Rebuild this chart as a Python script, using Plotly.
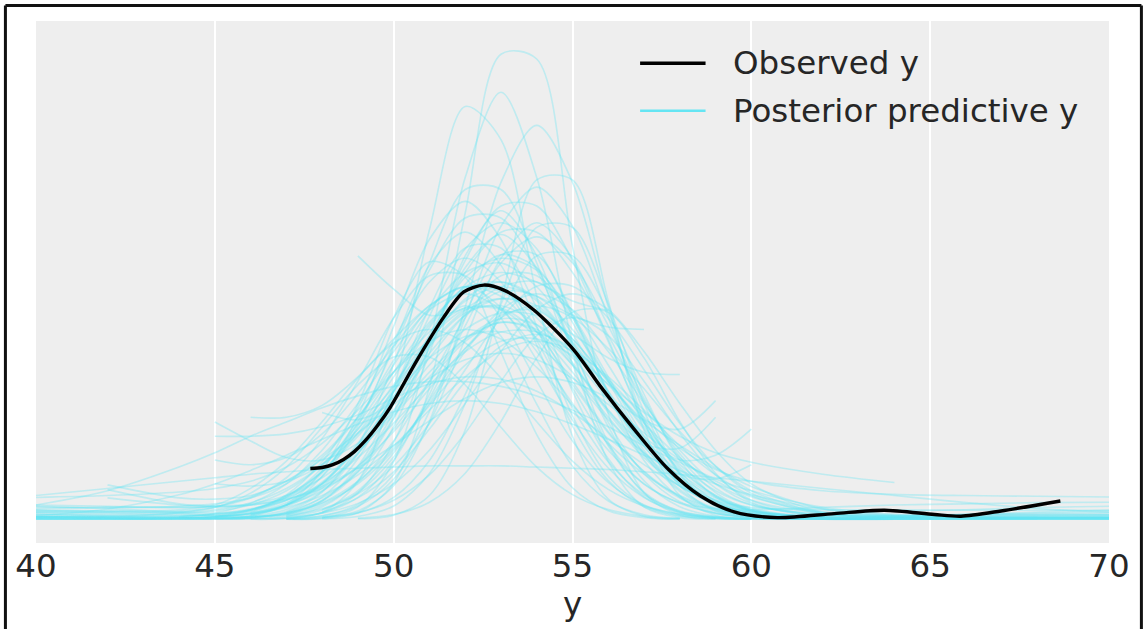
import plotly.graph_objects as go

N = None

# x grid on which the posterior predictive KDE curves were read
pp_grid = [40, 42, 44, 45, 46, 47, 48, 49, 50, 51, 52, 53, 54, 55, 56, 57, 58, 59, 60, 62, 64, 66, 68, 70]

# posterior predictive KDE curves
pp_curves = [
    [N,N,N,N,N,0.0,0.02,0.27,1.53,5.56,12.9,19.6,19.4,11.5,4.45,1.12,0.18,0.02,0.0,N,N,N,N,N],
    [N,N,N,N,0.0,0.03,0.29,1.6,5.5,12.2,17.4,16.0,9.4,3.5,0.85,0.13,0.01,N,N,N,N,N,N,N],
    [N,N,N,N,N,0.01,0.07,0.52,2.43,7.4,14.4,18.0,14.4,7.4,2.43,0.52,0.07,0.01,N,N,N,N,N,N],
    [N,N,N,N,N,0.01,0.07,0.35,1.41,4.13,8.95,14.2,16.6,14.2,8.95,4.13,1.41,0.35,0.07,N,N,N,N,N],
    [N,N,N,N,N,N,N,0.02,0.17,1.0,3.76,9.2,14.3,14.3,9.2,3.76,1.0,0.17,0.02,N,N,N,N,N],
    [0.05,0.03,0.02,0.02,0.07,0.33,1.14,3.09,6.55,10.8,13.9,13.9,10.8,6.55,3.09,1.14,0.33,0.07,0.01,N,N,N,N,N],
    [N,N,N,N,N,0.03,0.15,0.62,1.89,4.55,8.5,12.35,14.0,12.35,8.5,4.55,1.89,0.62,0.15,0.02,0.05,0.08,0.1,0.1],
    [0.02,0.01,0.01,0.03,0.15,0.59,1.81,4.36,8.13,11.8,13.4,11.8,8.13,4.36,1.81,0.59,0.15,0.03,0.0,N,N,N,N,N],
    [0.12,0.08,0.05,0.04,0.08,0.25,0.77,2.0,4.24,7.48,10.9,13.2,13.2,10.9,7.48,4.24,2.0,0.77,0.25,0.05,0.03,0.03,0.03,0.03],
    [0.15,0.12,0.15,0.2,0.35,0.8,1.95,4.08,7.2,10.5,12.7,12.7,10.5,7.2,4.08,1.92,0.74,0.24,0.07,0.01,N,N,N,N],
    [N,N,N,N,N,N,0.06,0.26,0.92,2.48,5.27,8.7,11.1,11.1,8.7,5.27,2.48,0.95,0.35,0.1,0.1,0.05,0.05,0.05],
    [N,N,N,0.03,0.12,0.41,1.18,2.75,5.34,8.56,11.4,12.5,11.4,8.56,5.34,2.75,1.18,0.41,0.12,0.0,0.0,0.02,0.05,0.08],
    [0.3,0.25,0.18,0.15,0.22,0.55,1.31,2.76,4.97,7.75,10.4,12.1,12.1,10.4,7.75,4.97,2.76,1.31,0.6,0.2,0.15,0.2,0.25,0.3],
    [0.45,0.5,0.5,0.5,0.6,0.9,1.8,3.93,7.34,10.7,12.1,10.7,7.34,3.93,1.63,0.53,0.13,0.03,N,N,N,N,N,N],
    [N,N,N,N,N,0.12,0.39,1.12,2.62,5.08,8.15,10.8,11.9,10.8,8.15,5.08,2.62,1.12,0.39,0.05,0.05,0.08,0.1,0.12],
    [0.6,0.55,0.5,0.55,0.9,1.75,3.4,5.82,8.48,10.26,10.26,8.48,5.82,3.3,1.55,0.6,0.2,0.06,N,N,N,N,N,N],
    [N,N,0.03,0.09,0.27,0.7,1.57,3.06,5.14,7.44,9.29,10.0,9.29,7.44,5.14,3.06,1.6,0.8,0.5,0.4,0.4,0.38,0.38,0.38],
    [N,N,N,N,0.09,0.26,0.67,1.49,2.91,4.88,7.07,8.83,9.5,8.83,7.07,4.88,2.91,1.49,0.67,0.09,0.01,N,N,N],
    [0.1,0.08,0.06,0.14,0.4,0.96,2.02,3.64,5.67,7.62,8.84,8.84,7.62,5.67,3.64,2.02,0.96,0.4,0.14,0.01,0.02,0.03,0.05,0.06],
    [N,N,N,N,N,N,0.09,0.28,0.8,1.87,3.63,5.82,7.74,8.5,7.74,5.82,3.63,1.87,0.8,0.12,0.1,0.12,0.15,0.17],
    [0.35,0.35,0.4,0.6,1.3,2.45,4.11,5.95,7.43,8.0,7.43,5.95,4.11,2.45,1.26,0.56,0.22,0.07,0.02,0.02,0.02,0.02,N,N],
    [0.2,0.15,0.12,0.2,0.4,0.8,1.49,2.6,4.05,5.66,7.06,7.89,7.89,7.06,5.66,4.05,2.6,1.5,0.8,0.25,0.15,0.2,0.2,0.2],
    [0.0,0.01,0.02,0.1,0.36,1.03,2.42,4.7,7.54,10.0,11.0,10.0,7.54,4.7,2.42,1.03,0.36,0.1,0.02,0.0,0.01,0.03,0.05,0.06],
    [N,N,N,N,N,0.16,0.44,1.07,2.24,4.04,6.3,8.47,9.82,9.82,8.47,6.3,4.04,2.24,1.1,0.3,0.35,0.4,0.5,0.55],
    [0.1,0.1,0.28,0.51,0.95,1.61,2.52,3.64,4.84,5.94,6.72,7.0,6.72,5.94,4.84,3.64,2.52,1.61,0.95,0.26,0.07,0.05,0.05,0.05],
    [0.15,0.43,1.03,1.49,2.06,2.7,3.37,4.0,4.53,4.88,5.0,4.88,4.53,4.0,3.37,2.7,2.06,1.49,1.03,0.43,0.15,0.04,0.02,0.02],
    [N,N,N,3.5,3.5,3.6,3.9,4.4,5.1,5.7,6.0,5.9,5.4,4.5,3.4,2.3,1.4,0.75,0.35,0.05,N,N,N,N],
    [N,N,N,4.1,3.3,2.6,2.5,3.2,4.5,6.2,7.6,8.3,8.0,6.8,5.0,3.2,1.8,0.9,0.4,0.05,N,N,N,N],
    [N,N,N,2.5,2.3,2.6,3.6,5.3,7.3,9.0,9.8,9.4,7.9,5.8,3.7,2.0,0.9,0.35,0.1,N,N,N,N,N],
    [N,N,N,N,4.3,4.3,4.8,6.0,7.6,9.0,9.8,9.6,8.5,6.6,4.6,2.8,1.5,0.7,0.3,0.02,N,N,N,N],
    [N,N,N,N,N,N,4.5,4.2,5.0,6.8,8.6,9.6,9.4,8.0,5.9,3.8,2.1,1.0,0.45,0.05,N,N,N,N],
    [N,N,N,N,N,N,N,11.1,9.7,8.6,8.9,9.8,10.0,8.8,6.5,4.1,2.2,1.0,0.35,0.02,N,N,N,N],
    [N,N,N,N,0.3,0.9,2.0,3.8,6.0,8.2,9.8,10.4,10.0,9.2,8.8,N,N,N,N,N,N,N,N,N],
    [N,N,N,N,N,0.6,1.5,3.2,5.4,7.6,9.2,9.8,9.4,8.6,8.1,8.0,N,N,N,N,N,N,N,N],
    [N,N,N,N,0.2,0.6,1.4,2.8,4.6,6.5,8.0,8.7,8.6,7.8,6.8,6.2,6.1,N,N,N,N,N,N,N],
    [N,N,N,N,N,N,0.4,1.2,2.8,5.0,7.2,8.6,8.8,7.6,5.8,4.2,3.8,5.0,N,N,N,N,N,N],
    [N,N,N,N,N,0.3,0.9,2.0,3.8,5.8,7.5,8.3,7.9,6.5,4.6,3.2,3.0,4.3,N,N,N,N,N,N],
    [N,N,N,N,0.2,0.6,1.5,3.0,5.0,7.0,8.6,9.3,9.0,7.5,5.4,3.5,2.5,2.7,3.8,N,N,N,N,N],
    [N,N,N,0.1,0.4,1.0,2.0,3.5,5.2,6.8,7.7,7.9,7.3,6.0,4.2,2.8,1.9,1.7,2.3,N,N,N,N,N],
    [N,N,N,N,N,0.2,0.7,1.6,3.0,4.8,6.5,7.5,7.6,6.9,5.7,4.5,3.5,2.8,2.4,1.9,1.55,N,N,N],
    [N,N,N,N,N,N,0.3,0.9,2.0,3.8,5.8,7.3,7.8,7.2,5.9,4.3,3.0,2.1,1.6,1.2,1.05,1.0,0.97,0.94],
    [0.92,1.0,1.15,1.3,1.6,2.2,3.2,4.6,6.2,7.5,8.0,7.6,6.4,4.8,3.2,1.9,1.0,0.45,0.18,0.02,0.01,0.0,N,N],
    [N,1.45,0.9,0.85,1.0,1.6,2.7,4.3,6.2,7.9,8.9,8.9,7.9,6.2,4.3,2.6,1.4,0.65,0.25,0.02,N,N,N,N],
    [N,1.25,0.65,0.55,0.6,0.85,1.3,2.2,4.5,7.6,10.2,11.0,10.5,8.6,6.0,3.5,1.7,0.7,0.25,0.02,N,N,N,N],
    [0.52,0.5,0.55,0.65,0.9,1.5,2.6,4.3,6.5,8.8,10.4,10.8,9.8,7.8,5.3,3.1,1.5,0.6,0.2,0.02,0.02,0.03,0.04,0.05],
    [0.38,0.3,0.3,0.4,0.7,1.3,2.3,3.8,5.6,7.4,8.8,9.3,8.9,7.6,5.8,3.9,2.3,1.2,0.6,0.2,0.15,0.15,0.16,0.17],
    [0.25,0.2,0.25,0.35,0.6,1.2,2.3,4.0,6.2,8.3,9.7,10.0,9.2,7.4,5.2,3.2,1.7,0.8,0.35,0.05,0.04,0.05,0.05,0.05],
    [0.05,0.03,0.04,0.1,0.26,0.6,1.2,2.24,3.7,5.5,7.2,8.5,9.0,8.5,7.2,5.5,3.7,2.24,1.2,0.26,0.05,0.02,0.01,0.0],
    [0.1,0.08,0.05,0.1,0.25,0.6,1.48,3.14,5.54,8.08,9.77,9.77,8.08,5.54,3.14,1.48,0.7,0.45,0.4,0.5,0.6,0.65,0.7,0.72],
    [0.0,0.0,0.01,0.01,0.03,0.13,0.53,1.62,3.9,7.3,10.6,12.0,10.6,7.3,3.9,1.62,0.53,0.13,0.03,0.01,0.0,0.0,0.0,0.0],
    [0.02,0.02,0.09,0.26,0.67,1.49,2.91,4.88,7.07,8.83,9.5,8.83,7.07,4.88,2.91,1.49,0.67,0.26,0.09,0.02,0.02,0.02,0.02,N],
    [1.0,1.3,1.6,1.75,1.9,2.0,2.1,2.15,2.2,2.25,2.25,2.25,2.2,2.15,2.1,2.0,1.9,1.75,1.6,1.3,1.0,0.7,0.45,0.3],
    [0.6,1.2,2.2,2.8,3.5,4.1,4.7,5.2,5.6,5.8,5.8,5.6,5.2,4.6,3.9,3.1,2.4,1.7,1.2,0.5,0.2,0.1,N,N],
    [0.05,0.03,0.03,0.03,0.14,0.64,2.05,4.85,8.5,10.85,10.2,7.04,3.57,1.33,0.36,0.07,0.01,N,N,N,N,N,N,N],
    [N,N,N,N,N,N,N,0.05,0.2,0.72,1.94,4.12,6.8,8.72,8.72,6.8,4.12,1.94,0.72,0.12,0.1,0.1,0.08,N],
    [0.3,0.3,0.35,0.5,1.1,2.2,3.88,5.66,6.84,6.84,5.66,3.88,2.2,1.04,0.41,0.13,0.04,N,N,N,N,N,N,N],
    [N,N,0.1,0.22,0.44,0.81,1.38,2.16,3.12,4.15,5.1,5.76,6.0,5.76,5.1,4.15,3.12,2.16,1.38,0.44,0.1,0.03,0.02,N],
    [0.1,0.08,0.06,0.04,0.03,0.06,0.26,0.92,2.48,5.27,8.68,11.14,11.14,8.68,5.27,2.48,0.92,0.26,0.06,0.02,0.04,0.05,0.06,0.06],
    [N,N,N,N,N,N,0.02,0.12,0.56,1.93,4.88,9.05,12.3,12.3,9.05,4.88,1.93,0.56,0.12,0.05,0.1,0.12,0.12,0.12],
    [0.2,0.15,0.1,0.08,0.1,0.19,0.77,2.24,4.85,7.71,9.0,7.71,4.85,2.24,0.77,0.19,0.04,N,N,N,N,N,N,N],
    [0.08,0.05,0.03,0.03,0.06,0.27,0.94,2.55,5.4,8.91,11.43,11.43,8.91,5.4,2.55,0.94,0.27,0.06,0.02,0.03,0.05,0.06,0.06,0.06],
    [0.4,0.35,0.25,0.15,0.12,0.2,0.6,1.55,3.3,5.82,8.48,10.26,10.26,8.48,5.82,3.3,1.55,0.6,0.19,0.05,0.05,0.05,N,N],
    [N,N,N,N,N,0.03,0.14,0.55,1.69,4.06,7.59,11.0,12.5,11.0,7.59,4.06,1.69,0.55,0.2,0.1,0.12,0.2,0.3,0.38],
    [0.55,0.45,0.3,0.25,0.4,0.95,2.16,4.18,6.71,8.92,9.8,8.92,6.71,4.18,2.16,0.92,0.32,0.1,0.02,N,N,N,N,N],
    [0.1,0.06,0.03,0.02,0.02,0.05,0.28,1.1,3.24,7.0,11.1,13.0,11.1,7.0,3.24,1.1,0.28,0.05,0.02,0.01,0.02,0.02,0.02,0.02],
    [N,N,N,N,N,0.09,0.26,0.67,1.49,2.91,4.88,7.07,8.83,9.5,8.83,7.07,4.88,2.91,1.49,0.3,0.2,0.2,0.2,0.22],
    [N,0.9,0.6,0.55,0.65,1.0,1.75,2.9,4.4,6.0,7.6,8.45,8.2,7.0,5.2,3.4,1.95,0.95,0.4,0.06,0.03,N,N,N],
    [0.0,0.0,0.02,0.03,0.06,0.25,0.8,2.1,4.3,7.2,9.9,11.15,10.6,8.3,5.4,2.9,1.25,0.45,0.13,0.02,0.0,0.0,0.0,0.0],
    [N,N,N,1.5,1.4,1.6,2.3,3.6,5.4,7.3,8.7,9.0,8.2,6.5,4.5,2.7,1.4,0.65,0.3,0.15,0.12,0.1,N,N],
    [N,N,N,0.09,0.22,0.5,1.0,1.87,3.1,4.6,6.0,7.1,7.5,7.1,6.0,4.6,3.1,1.87,1.0,0.22,0.04,0.01,0.0,0.0],
]

# observed KDE curve
obs_x = [47.67, 48.0, 48.3, 48.6, 48.9, 49.2, 49.55, 49.91, 50.65, 51.4, 51.96, 52.52, 53.08,
         53.92, 55.04, 55.78, 56.72, 57.65, 58.58, 59.52, 60.73, 62.32, 63.72, 65.12, 65.86,
         66.98, 68.64]
obs_y = [2.14, 2.18, 2.3, 2.52, 2.85, 3.3, 3.95, 4.73, 6.7, 8.52, 9.58, 9.87, 9.66,
         8.82, 7.13, 5.6, 3.8, 2.15, 0.98, 0.31, 0.07, 0.24, 0.38, 0.2, 0.13,
         0.35, 0.77]

x_ticks = [40, 45, 50, 55, 60, 65, 70]
legend_labels = ["Observed y", "Posterior predictive y"]
x_label = "y"

PP_COLOR = "#65e5f3"
PP_LINE = "rgba(101,229,243,0.34)"
FONT = "DejaVu Sans"
FS = 32.5
TEXT_COLOR = "#262626"

fig = go.Figure()
for curve in pp_curves:
    fig.add_trace(go.Scatter(
        x=pp_grid, y=curve, mode="lines",
        line=dict(color=PP_LINE, width=1.6, shape="spline", smoothing=0.9),
        showlegend=False, hoverinfo="skip",
    ))

fig.add_trace(go.Scatter(
    x=obs_x, y=obs_y, mode="lines",
    line=dict(color="black", width=3.4, shape="spline", smoothing=0.8),
    showlegend=False, name=legend_labels[0],
))

# manual legend (line samples + labels)
leg_x0, leg_x1, leg_tx = 0.563, 0.624, 0.648
leg_rows = [0.919, 0.828]
leg_colors = ["black", PP_COLOR]
leg_widths = [3.4, 2.4]
shapes = []
annotations = []
for lab, yy, col, w in zip(legend_labels, leg_rows, leg_colors, leg_widths):
    shapes.append(dict(type="line", xref="paper", yref="paper",
                       x0=leg_x0, x1=leg_x1, y0=yy, y1=yy,
                       line=dict(color=col, width=w)))
    annotations.append(dict(xref="paper", yref="paper", x=leg_tx, y=yy,
                            xanchor="left", yanchor="middle", text=lab,
                            showarrow=False,
                            font=dict(family=FONT, size=FS, color=TEXT_COLOR)))

# outer frame of the picture
frame = dict(color="#111111", width=3)
shapes += [
    dict(type="line", xref="paper", yref="paper", x0=-0.0285, x1=-0.0285, y0=-0.2, y1=1.0297, line=frame),
    dict(type="line", xref="paper", yref="paper", x0=-0.0285, x1=1.0302, y0=1.0297, y1=1.0297, line=frame),
    dict(type="line", xref="paper", yref="paper", x0=1.0302, x1=1.0302, y0=-0.2, y1=1.0297, line=frame),
]

fig.update_layout(
    width=1143, height=629,
    margin=dict(l=36, r=34, t=21, b=86),
    paper_bgcolor="white", plot_bgcolor="#eeeeee",
    font=dict(family=FONT, size=FS, color=TEXT_COLOR),
    shapes=shapes, annotations=annotations,
    showlegend=False,
)
fig.update_xaxes(
    range=[40, 70], tickvals=x_ticks, ticktext=[str(t) for t in x_ticks],
    showgrid=True, gridcolor="white", gridwidth=1.5,
    zeroline=False, showline=False, ticks="",
    tickfont=dict(family=FONT, size=FS, color=TEXT_COLOR),
    title=dict(text=x_label, font=dict(family=FONT, size=FS, color=TEXT_COLOR), standoff=6),
)
fig.update_yaxes(
    range=[-1.0, 21.0], showticklabels=False, showgrid=False, zeroline=False,
    showline=False, ticks="",
)

fig.write_html("out.html", config={"displayModeBar": False},
               post_script="document.body.style.margin='0';")
